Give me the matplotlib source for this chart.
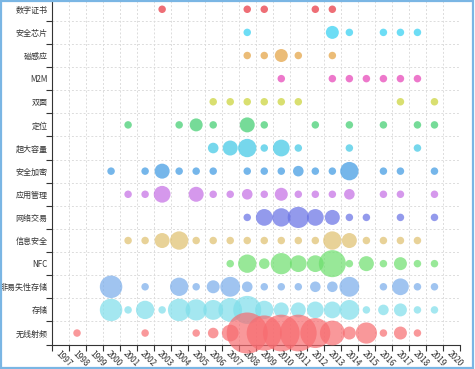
import matplotlib.pyplot as plt
from matplotlib.patches import Rectangle

plt.rcParams['font.family'] = ['Noto Sans CJK SC', 'DejaVu Sans']

years = list(range(1997, 2021))

# 从上到下的技术类别
categories = ['数字证书', '安全芯片', '磁感应', 'M2M', '双面', '定位', '超大容量', '安全加密',
              '应用管理', '网络交易', '信息安全', 'NFC', '非易失性存储', '存储', '无线射频']

colors = ['#e8313c', '#2fcff2', '#e3a03e', '#e63fb6', '#c9d233', '#3ccd6c', '#3cc6e4', '#3a98e2',
          '#c46ce4', '#6670e4', '#dfbf6c', '#6cdf6c', '#78acea', '#7edeea', '#f76c70']

cat_years = [
    [2003, 2008, 2009, 2012, 2013],
    [2008, 2013, 2014, 2016, 2017, 2018],
    [2008, 2009, 2010, 2011, 2013],
    [2010, 2013, 2014, 2015, 2016, 2017, 2018],
    [2006, 2007, 2008, 2009, 2010, 2011, 2017, 2019],
    [2001, 2004, 2005, 2006, 2008, 2009, 2012, 2014, 2016, 2018, 2019],
    [2006, 2007, 2008, 2009, 2010, 2011, 2014, 2018],
    [2000, 2002, 2003, 2004, 2005, 2006, 2008, 2009, 2010, 2011, 2012, 2013, 2014, 2016, 2017, 2019],
    [2001, 2002, 2003, 2005, 2006, 2007, 2008, 2009, 2010, 2011, 2012, 2013, 2014, 2016, 2017, 2019],
    [2008, 2009, 2010, 2011, 2012, 2013, 2014, 2015, 2017, 2019],
    [2001, 2002, 2003, 2004, 2005, 2006, 2007, 2008, 2009, 2010, 2011, 2012, 2013, 2014, 2015, 2016, 2017, 2018],
    [2007, 2008, 2009, 2010, 2011, 2012, 2013, 2014, 2015, 2016, 2017, 2018, 2019],
    [2000, 2002, 2004, 2005, 2006, 2007, 2008, 2009, 2010, 2011, 2012, 2013, 2014, 2016, 2017, 2018, 2019],
    [2000, 2001, 2002, 2003, 2004, 2005, 2006, 2007, 2008, 2009, 2010, 2011, 2012, 2013, 2014, 2015, 2016, 2017, 2018, 2019],
    [1998, 2002, 2005, 2006, 2007, 2008, 2009, 2010, 2011, 2012, 2013, 2014, 2015, 2016, 2017, 2018],
]

# 每年的数量
cat_counts = [
    [1, 1, 1, 1, 1],
    [1, 3, 1, 1, 1, 1],
    [1, 1, 3, 1, 1],
    [1, 1, 1, 1, 1, 1, 1],
    [1, 1, 1, 1, 1, 1, 1, 1],
    [1, 1, 3, 1, 4, 1, 1, 1, 1, 1, 1],
    [2, 4, 6, 1, 5, 1, 1, 1],
    [1, 1, 4, 1, 1, 1, 1, 1, 1, 2, 1, 1, 6, 1, 1, 1],
    [1, 1, 5, 4, 1, 1, 2, 1, 3, 1, 1, 1, 2, 1, 1, 1],
    [1, 5, 6, 8, 5, 4, 1, 1, 1, 1],
    [1, 1, 4, 6, 1, 1, 1, 1, 1, 1, 1, 1, 6, 4, 1, 1, 1, 1],
    [1, 6, 2, 8, 5, 5, 13, 1, 4, 1, 3, 1, 1],
    [9, 1, 6, 1, 3, 7, 2, 1, 1, 1, 2, 2, 7, 1, 5, 1, 1],
    [9, 1, 6, 1, 9, 8, 7, 10, 14, 6, 4, 4, 5, 5, 7, 1, 2, 3, 1, 1],
    [1, 1, 1, 2, 5, 30, 22, 24, 24, 16, 11, 3, 8, 1, 3, 1],
]

fig = plt.figure(figsize=(4.75, 3.69), dpi=100)
ax = fig.add_axes([51.5 / 475, 1 - 344.6 / 369, 408.5 / 475, 346.9 / 369])

n = len(categories)
for i, cat in enumerate(categories):
    row = n - 1 - i
    xs = [y - years[0] for y in cat_years[i]]
    # 气泡直径(像素) = 7.5 * sqrt(数量)
    sizes = [(7.5 * c ** 0.5 * 0.72) ** 2 for c in cat_counts[i]]
    ax.scatter(xs, [row] * len(xs), s=sizes, c=colors[i], alpha=0.7,
               edgecolors='none', zorder=3, clip_on=False)

ax.set_xlim(-0.5, len(years) - 0.5)
ax.set_ylim(-0.5, n - 0.5)

ax.set_xticks(range(len(years)))
ax.set_xticklabels([str(y) for y in years], rotation=-45, ha='left', va='top',
                   rotation_mode='anchor', fontsize=6, color='#333333')
ax.set_yticks(range(n))
ax.set_yticklabels(categories[::-1], fontsize=5.8, color='#333333')
ax.tick_params(axis='x', which='major', length=0, pad=3)
ax.tick_params(axis='y', which='major', length=0, pad=3)

ax.set_xticks([k - 0.5 for k in range(len(years) + 1)], minor=True)
ax.set_yticks([k - 0.5 for k in range(n + 1)], minor=True)
ax.tick_params(axis='both', which='minor', length=4, width=0.8, color='#333333')
ax.grid(which='minor', linestyle=(0, (2, 2)), color='#dcdcdc', linewidth=0.7)

for side in ['top', 'right']:
    ax.spines[side].set_visible(False)
for side in ['left', 'bottom']:
    ax.spines[side].set_color('#333333')
    ax.spines[side].set_linewidth(0.8)

# 截图边框
fig.patches.append(Rectangle((0.002, 0.004), 0.994, 0.994, transform=fig.transFigure,
                             fill=False, edgecolor='#7ab6e4', linewidth=1.6))

fig.savefig('out.png', dpi=100)
